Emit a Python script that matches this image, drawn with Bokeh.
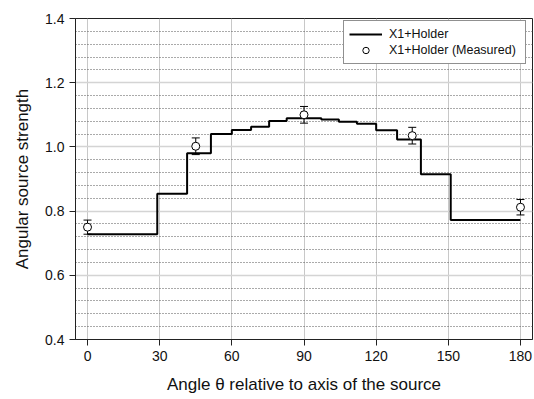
from bokeh.plotting import figure
from bokeh.models import (ColumnDataSource, Range1d, FixedTicker,
                          PrintfTickFormatter, Whisker, TeeHead, Legend, LegendItem)
from bokeh.embed import file_html
from bokeh.resources import INLINE

# Calculated angular source strength, one value per angular bin (bins equal in cos theta)
bin_edges = [0, 29.0, 41.4, 51.3, 60, 68.0, 75.5, 82.8, 90, 97.2, 104.5, 112.0,
             120, 128.7, 138.6, 151.0, 180]
bin_values = [0.728, 0.854, 0.980, 1.040, 1.053, 1.063, 1.081, 1.089, 1.089,
              1.085, 1.078, 1.072, 1.052, 1.023, 0.915, 0.772]

# Measured values with their uncertainties
meas_angle = [0, 45, 90, 135, 180]
meas_value = [0.750, 1.002, 1.100, 1.035, 0.812]
meas_error = [0.022, 0.026, 0.026, 0.026, 0.024]

x_ticks = [0, 30, 60, 90, 120, 150, 180]
y_ticks = [0.4, 0.6, 0.8, 1.0, 1.2, 1.4]
y_minor = [0.44, 0.48, 0.52, 0.56, 0.64, 0.68, 0.72, 0.76, 0.84, 0.88, 0.92, 0.96,
           1.04, 1.08, 1.12, 1.16, 1.24, 1.28, 1.32, 1.36]

FONT = "Liberation Sans"
TEXT = "#111111"

p = figure(width=534, height=399, output_backend="svg", toolbar_location=None,
           x_range=Range1d(-5, 185), y_range=Range1d(0.4, 1.4),
           min_border_left=75, min_border_right=2, min_border_top=18, min_border_bottom=60)

p.outline_line_color = "#222222"
p.outline_line_width = 1

# axes
p.xaxis.ticker = FixedTicker(ticks=x_ticks)
p.yaxis.ticker = FixedTicker(ticks=y_ticks, minor_ticks=y_minor)
p.yaxis.formatter = PrintfTickFormatter(format="%.1f")
p.xaxis.axis_label = "Angle θ relative to axis of the source"
p.yaxis.axis_label = "Angular source strength"
for ax in (p.xaxis[0], p.yaxis[0]):
    ax.axis_line_color = "#222222"
    ax.major_tick_line_color = "#222222"
    ax.major_tick_out = 6
    ax.major_tick_in = 0
    ax.minor_tick_line_color = None
    ax.major_label_text_font = FONT
    ax.major_label_text_font_size = "14px"
    ax.major_label_text_color = TEXT
    ax.axis_label_text_font = FONT
    ax.axis_label_text_font_size = "17px"
    ax.axis_label_text_font_style = "normal"
    ax.axis_label_text_color = TEXT
p.xaxis.major_label_standoff = 5
p.xaxis.axis_label_standoff = 11
p.yaxis.major_label_standoff = 5
p.yaxis.axis_label_standoff = 10

# grid
p.xgrid.grid_line_color = "#c8c8c8"
p.xgrid.grid_line_width = 1
p.ygrid.grid_line_color = "#d4d4d4"
p.ygrid.grid_line_width = 1.5
p.ygrid.minor_grid_line_color = "#555555"
p.ygrid.minor_grid_line_width = 1
p.ygrid.minor_grid_line_dash = "1 2"

# calculated step curve
step_src = ColumnDataSource(dict(x=bin_edges, y=bin_values + [bin_values[-1]]))
step_r = p.step("x", "y", source=step_src, mode="after", line_color="black", line_width=2)

# measured points with error bars
meas_src = ColumnDataSource(dict(
    x=meas_angle, y=meas_value,
    upper=[v + e for v, e in zip(meas_value, meas_error)],
    lower=[v - e for v, e in zip(meas_value, meas_error)]))
p.add_layout(Whisker(source=meas_src, base="x", upper="upper", lower="lower",
                     line_color="black", line_width=1,
                     upper_head=TeeHead(size=8, line_color="black", line_width=1),
                     lower_head=TeeHead(size=8, line_color="black", line_width=1)))
pt_r = p.scatter("x", "y", source=meas_src, marker="circle", size=8,
                 fill_color="white", line_color="black", line_width=1)

legend = Legend(items=[LegendItem(label="X1+Holder", renderers=[step_r]),
                       LegendItem(label="X1+Holder (Measured)", renderers=[pt_r])],
                location=(268, 275), margin=0)
legend.border_line_color = "#222222"
legend.border_line_width = 1
legend.background_fill_alpha = 1
legend.label_text_font = FONT
legend.label_text_font_size = "12.5px"
legend.label_text_color = TEXT
legend.glyph_width = 33
legend.glyph_height = 16
legend.label_height = 16
legend.label_width = 131
legend.spacing = 0
legend.padding = 5
legend.label_standoff = 7
p.add_layout(legend)

open("out.html", "w").write(file_html(p, INLINE))
